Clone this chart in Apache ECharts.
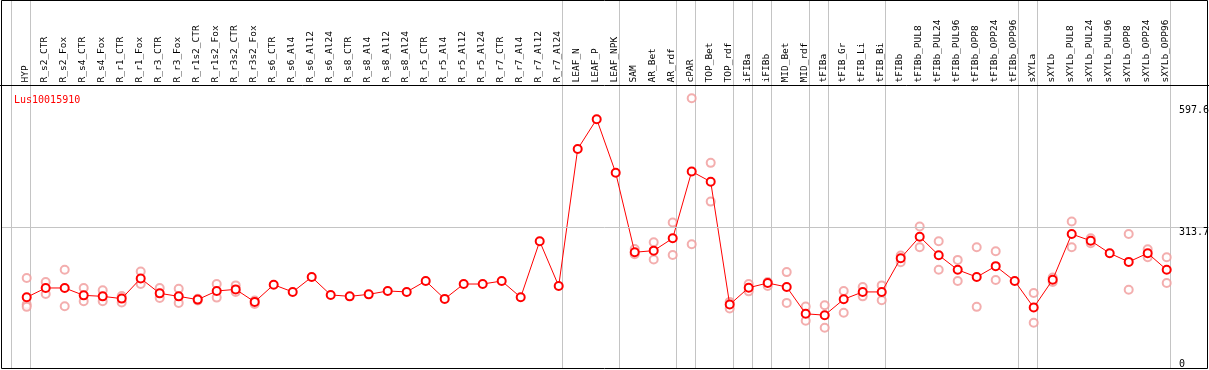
<!DOCTYPE html>
<html><head><meta charset="utf-8">
<script src="https://cdn.jsdelivr.net/npm/echarts@6/dist/echarts.min.js"></script>
<style>html,body{margin:0;padding:0;background:#fff}#c{width:1209px;height:370px}</style>
</head><body><div id="c"></div>
<script>
const geneName = 'Lus10015910';
const categories = ['HYP','R_s2_CTR','R_s2_Fox','R_s4_CTR','R_s4_Fox','R_r1_CTR','R_r1_Fox','R_r3_CTR','R_r3_Fox','R_r1s2_CTR','R_r1s2_Fox','R_r3s2_CTR','R_r3s2_Fox','R_s6_CTR','R_s6_Al4','R_s6_Al12','R_s6_Al24','R_s8_CTR','R_s8_Al4','R_s8_Al12','R_s8_Al24','R_r5_CTR','R_r5_Al4','R_r5_Al12','R_r5_Al24','R_r7_CTR','R_r7_Al4','R_r7_Al12','R_r7_Al24','LEAF_N','LEAF_P','LEAF_NPK','SAM','AR_Bet','AR_rdf','cPAR','TOP_Bet','TOP_rdf','iFIBa','iFIBb','MID_Bet','MID_rdf','tFIBa','tFIB_Gr','tFIB_Li','tFIB_Bi','tFIBb','tFIBb_PUL8','tFIBb_PUL24','tFIBb_PUL96','tFIBb_OPP8','tFIBb_OPP24','tFIBb_OPP96','sXYLa','sXYLb','sXYLb_PUL8','sXYLb_PUL24','sXYLb_PUL96','sXYLb_OPP8','sXYLb_OPP24','sXYLb_OPP96'];
const meanValues = [159.9,180.4,180.4,164.2,162.0,157.0,201.4,168.6,162.0,154.8,173.8,177.3,149.8,187.6,171.7,204.4,165.1,162.0,166.4,173.8,171.7,195.7,156.4,189.1,189.1,195.7,159.9,283.0,184.8,486.1,551.7,433.7,259.0,262.5,289.6,436.6,414.1,143.9,181.0,191.3,182.6,123.6,120.6,155.5,171.7,171.7,245.9,293.1,252.5,220.4,204.4,228.4,195.7,137.4,198.5,299.0,284.3,256.8,237.8,256.8,220.4];
const replicateValues = [
 [202.2,143.9,138.9],[193.5,167.3],[220.4,140.2],[180.4,151.1],[175.2,151.1],[162.9,148.3],[216.6,189.1],[180.4,158.6],[178.9,147.6],[153.0,156.5],[189.1,159.2],[186.1,171.7],[152.7,145.4],
 [],[],[],[],[],[],[],[],[],[],[],[],[],[],[],[],
 [],[],[],
 [266.2,254.6],[280.9,242.9],[324.5,253.1],[597.6,276.5],[455.6,370.4],[149.8,135.2],[189.1,173.0],[193.5,184.8],[215.3,147.6],[139.6,108.3],[142.4,93.0],[173.8,125.8],[182.6,162.0],[186.1,153.3],
 [251.6,237.2],[315.8,269.9],[283.0,220.4],[242.2,195.7],[269.9,138.9],[261.2,197.9],[],
 [169.5,104.0],[203.5,193.5],[326.7,269.9],[289.6,278.7],[],[299.0,176.7],[265.6,248.1],[248.1,191.3]
];
const groupSizes = [1,28,3,3,1,2,1,1,2,1,3,7,1,7];
const yTickLabels = [597.6, 313.7, 0];
const gridLineValue = 313.7;
const yMax = 597.6;

const meanData = meanValues.map((v,i)=>[i,v]);
const repData = [];
replicateValues.forEach((arr,i)=>arr.forEach(v=>repData.push([i,v])));
const sepData = [[-1+0.184,0]];
let cum = 0;
groupSizes.forEach(g=>{cum+=g; sepData.push([cum-1+0.184,0]);});

const W = 1209, H = 370;
const chart = echarts.init(document.getElementById('c'), null, {renderer:'canvas'});
const pxPerCat = 19, firstX = 26.7, gL = 1.5, gW = 1206;
const xMin = -(firstX-gL)/pxPerCat, xMax = xMin + gW/pxPerCat;
const mono = 'DejaVu Sans Mono, monospace';

chart.setOption({
  animation:false,
  title:{text:geneName,left:9,top:90,textStyle:{color:'#ff0000',fontSize:10,fontWeight:'normal',fontFamily:mono}},
  grid:[
    {left:gL,top:98.3,width:gW,height:273.6,containLabel:false},
    {left:firstX-pxPerCat/2-1,top:85.5,width:pxPerCat*categories.length,height:1}
  ],
  xAxis:[
    {type:'value',gridIndex:0,min:xMin,max:xMax,show:false},
    {type:'category',gridIndex:1,position:'top',data:categories,boundaryGap:true,
     axisLine:{show:false},axisTick:{show:false},splitLine:{show:false},
     axisLabel:{interval:0,rotate:90,margin:3,fontSize:9.5,fontFamily:mono,color:'#000'}}
  ],
  yAxis:[
    {type:'value',gridIndex:0,min:0,max:yMax,show:false},
    {type:'value',gridIndex:1,show:false}
  ],
  series:[
    {type:'custom',xAxisIndex:0,yAxisIndex:0,data:sepData,silent:true,z:1,clip:false,
     renderItem:(params,api)=>{
       const x = Math.round(api.coord([api.value(0),0])[0])+0.5;
       return {type:'line',shape:{x1:x,y1:0,x2:x,y2:369},style:{stroke:'#c4c4c4',lineWidth:1}};
     }},
    {type:'scatter',xAxisIndex:0,yAxisIndex:0,data:repData,symbol:'emptyCircle',symbolSize:8,z:2,silent:true,
     itemStyle:{color:'#f09a9a',borderColor:'#f09a9a',borderWidth:1.2},
     markLine:{silent:true,symbol:'none',label:{show:false},lineStyle:{color:'#c4c4c4',type:'solid',width:1},data:[{yAxis:gridLineValue}]}},
    {type:'line',xAxisIndex:0,yAxisIndex:0,data:meanData,symbol:'emptyCircle',symbolSize:8,z:3,silent:true,
     lineStyle:{color:'#ff0000',width:1},itemStyle:{color:'#ff0000',borderColor:'#ff0000',borderWidth:1.2}}
  ]
});

const g = [
  {type:'rect',shape:{x:1.5,y:0.5,width:1206,height:368},style:{fill:'none',stroke:'#000',lineWidth:1},z:100,silent:true},
  {type:'line',shape:{x1:0,y1:85.5,x2:W,y2:85.5},style:{stroke:'#000',lineWidth:1},z:100,silent:true}
];
yTickLabels.forEach(v=>{
  const py = chart.convertToPixel({yAxisIndex:0}, v);
  const y = Math.min(Math.max(py, 105), 359);
  g.push({type:'text',x:1179,y:y,style:{text:String(v),fontSize:10,fontFamily:mono,fill:'#000',textVerticalAlign:'top',verticalAlign:'top'},z:100,silent:true});
});
chart.setOption({graphic:g});
</script>
</body></html>
